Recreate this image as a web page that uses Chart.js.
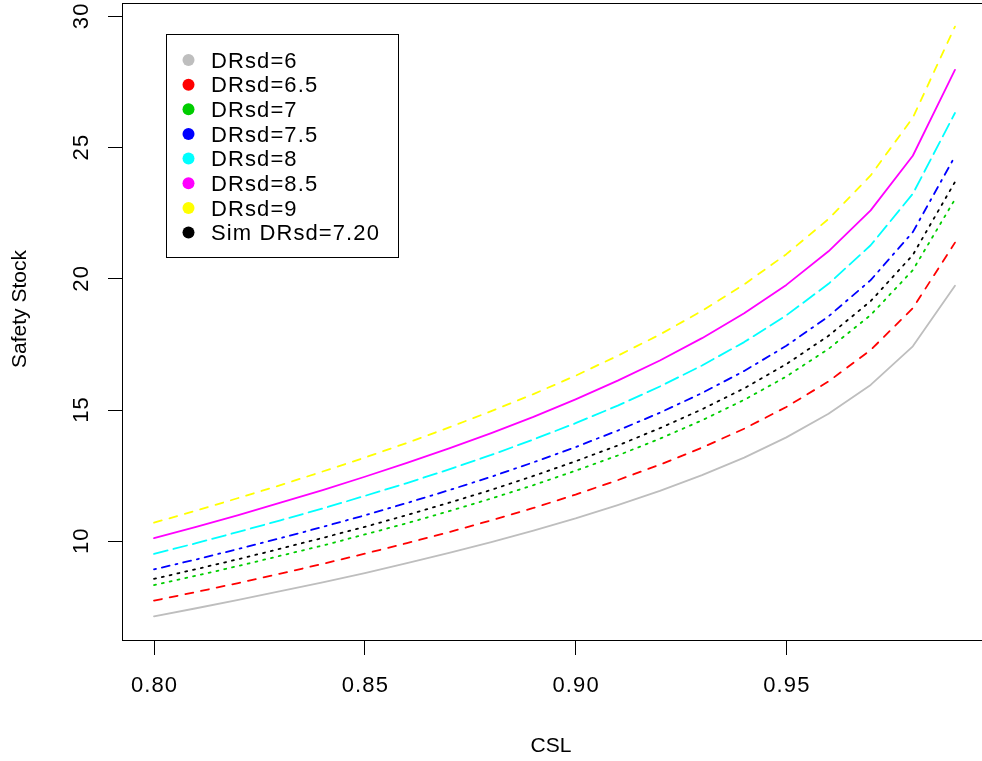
<!DOCTYPE html>
<html><head><meta charset="utf-8">
<script src="https://cdn.jsdelivr.net/npm/chart.js@4/dist/chart.umd.min.js"></script>
<style>
html,body{margin:0;padding:0;background:#fff;overflow:hidden;width:982px;height:761px}
#wrap{position:absolute;left:0;top:0;width:990px;height:761px}
</style>
</head><body><div id="wrap"><canvas id="c" width="990" height="761"></canvas></div>
<script>
// ---- data ----
const csl = [0.80,0.81,0.82,0.83,0.84,0.85,0.86,0.87,0.88,0.89,0.90,0.91,0.92,0.93,0.94,0.95,0.96,0.97,0.98,0.99];
const seriesLabels = ['DRsd=6','DRsd=6.5','DRsd=7','DRsd=7.5','DRsd=8','DRsd=8.5','DRsd=9','Sim DRsd=7.20'];
const ssDR60 = [7.14,7.45,7.77,8.10,8.44,8.79,9.17,9.56,9.97,10.41,10.87,11.38,11.92,12.52,13.19,13.96,14.86,15.96,17.43,19.74];
const ssDR65 = [7.74,8.07,8.41,8.77,9.14,9.53,9.93,10.35,10.80,11.27,11.78,12.33,12.92,13.57,14.29,15.12,16.09,17.29,18.88,21.38];
const ssDR70 = [8.33,8.69,9.06,9.45,9.84,10.26,10.69,11.15,11.63,12.14,12.69,13.27,13.91,14.61,15.39,16.28,17.33,18.62,20.33,23.03];
const ssDR75 = [8.93,9.31,9.71,10.12,10.55,10.99,11.46,11.95,12.46,13.01,13.59,14.22,14.90,15.65,16.49,17.45,18.57,19.95,21.78,24.67];
const ssDR80 = [9.52,9.93,10.36,10.80,11.25,11.73,12.22,12.74,13.29,13.88,14.50,15.17,15.90,16.70,17.59,18.61,19.81,21.28,23.24,26.32];
const ssDR85 = [10.12,10.55,11.00,11.47,11.95,12.46,12.99,13.54,14.12,14.74,15.41,16.12,16.89,17.74,18.69,19.77,21.05,22.61,24.69,27.96];
const ssDR90 = [10.71,11.17,11.65,12.14,12.66,13.19,13.75,14.34,14.96,15.61,16.31,17.07,17.88,18.78,19.79,20.94,22.28,23.94,26.14,29.61];
const ssSim  = [8.57,8.94,9.32,9.72,10.13,10.55,11.00,11.47,11.96,12.49,13.05,13.65,14.31,15.03,15.83,16.75,17.83,19.15,20.91,23.69];
const xTickValues = [0.80,0.85,0.90,0.95];
const xTickLabels = ['0.80','0.85','0.90','0.95'];
const yTickValues = [10,15,20,25,30];
const yTickLabels = ['10','15','20','25','30'];
const xTitle = 'CSL';
const yTitle = 'Safety Stock';

// ---- styles ----
const seriesValues = [ssDR60,ssDR65,ssDR70,ssDR75,ssDR80,ssDR85,ssDR90,ssSim];
const colors = ['#BEBEBE','#FF0000','#00CD00','#0000FF','#00FFFF','#FF00FF','#FFFF00','#000000'];
const dashes = [[],[8,8],[2,6],[2,6,8,6],[14,6],[],[8,8],[2,6]];
const FONT = '22px "Liberation Sans", Arial, sans-serif';
const TITLE_FONT = '21px "Liberation Sans", Arial, sans-serif';
const SPACING = 1.1;

const datasets = seriesValues.map((vals,i)=>({
  label: seriesLabels[i],
  data: csl.map((x,j)=>({x:x,y:vals[j]})),
  borderColor: colors[i],
  backgroundColor: colors[i],
  borderWidth: 1.8,
  borderDash: dashes[i],
  borderCapStyle: 'round',
  borderJoinStyle: 'round',
  pointRadius: 0,
  tension: 0,
  fill: false,
  order: 8 - i
}));

const decor = {
  id: 'decor',
  afterDraw(chart){
    const ctx = chart.ctx, a = chart.chartArea;
    const xs = chart.scales.x, ys = chart.scales.y;
    ctx.save();
    // box
    ctx.strokeStyle = '#000'; ctx.lineWidth = 1;
    ctx.strokeRect(Math.round(a.left)+0.5, Math.round(a.top)+0.5, Math.round(a.right-a.left), Math.round(a.bottom-a.top));
    ctx.fillStyle = '#000';
    ctx.font = FONT;
    ctx.letterSpacing = SPACING + 'px';
    // x tick labels
    ctx.textAlign = 'center'; ctx.textBaseline = 'alphabetic';
    xTickValues.forEach((v,i)=>{ ctx.fillText(xTickLabels[i], xs.getPixelForValue(v) + SPACING/2, 692); });
    // y tick labels (rotated)
    yTickValues.forEach((v,i)=>{
      ctx.save();
      ctx.translate(88, ys.getPixelForValue(v) - SPACING/2);
      ctx.rotate(-Math.PI/2);
      ctx.fillText(yTickLabels[i], 0, 0);
      ctx.restore();
    });
    // titles
    ctx.letterSpacing = '0px';
    ctx.font = TITLE_FONT;
    ctx.fillText(xTitle, 551, 752);
    ctx.save(); ctx.translate(26, 309); ctx.rotate(-Math.PI/2); ctx.fillText(yTitle, 0, 0); ctx.restore();
    // legend
    const lx = 166, ly = 34, lw = 232, lh = 223;
    ctx.fillStyle = '#fff'; ctx.fillRect(lx, ly, lw, lh);
    ctx.strokeStyle = '#000'; ctx.lineWidth = 1;
    ctx.strokeRect(lx+0.5, ly+0.5, lw, lh);
    ctx.textAlign = 'left';
    ctx.font = FONT;
    ctx.letterSpacing = SPACING + 'px';
    chart.data.datasets.forEach((ds,i)=>{
      const cy = 60 + i*24.65;
      ctx.fillStyle = ds.borderColor;
      ctx.beginPath(); ctx.arc(188.5, cy, 6, 0, Math.PI*2); ctx.fill();
      ctx.fillStyle = '#000';
      ctx.fillText(ds.label, 211, cy + 7.6);
    });
    ctx.restore();
  }
};

new Chart(document.getElementById('c'), {
  type: 'line',
  data: { datasets: datasets },
  options: {
    responsive: false,
    devicePixelRatio: 1,
    animation: false,
    layout: { padding: { top: 3, right: 3, left: 0, bottom: 0 } },
    plugins: { legend: { display: false }, tooltip: { enabled: false } },
    scales: {
      x: {
        type: 'linear', min: 0.7924, max: 0.9976,
        afterBuildTicks: s => { s.ticks = xTickValues.map(v => ({value: v})); },
        afterFit: s => { s.height = 121; },
        ticks: { display: false },
        grid: { display: true, drawOnChartArea: false, drawTicks: true, tickLength: 15, tickColor: '#000', lineWidth: 1 },
        border: { display: true, color: '#000', width: 1 }
      },
      y: {
        type: 'linear', min: 6.24, max: 30.51,
        afterBuildTicks: s => { s.ticks = yTickValues.map(v => ({value: v})); },
        afterFit: s => { s.width = 122; },
        ticks: { display: false },
        grid: { display: true, drawOnChartArea: false, drawTicks: true, tickLength: 14, tickColor: '#000', lineWidth: 1 },
        border: { display: true, color: '#000', width: 1 }
      }
    }
  },
  plugins: [decor]
});
</script>
</body></html>
